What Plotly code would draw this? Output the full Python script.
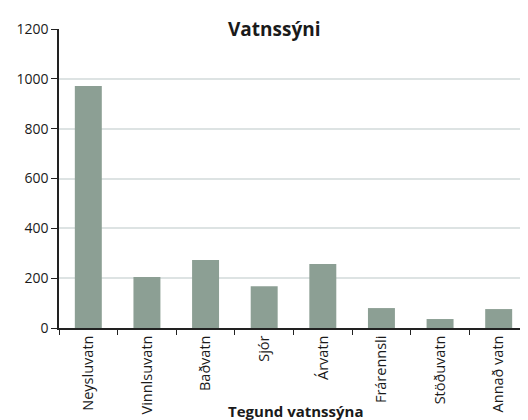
import plotly.graph_objects as go

categories = ["Neysluvatn", "Vinnlsuvatn", "Baðvatn", "Sjór", "Árvatn",
              "Frárennsli", "Stöðuvatn", "Annað vatn"]
counts = [971, 205, 273, 168, 257, 80, 36, 76]
y_ticks = [0, 200, 400, 600, 800, 1000, 1200]

font_name = "Open Sans"

fig = go.Figure(go.Bar(
    x=categories,
    y=counts,
    marker=dict(color="#8c9f94", line=dict(width=0)),
    width=0.46,
))

# page body adds an 8px offset, so the figure is 8px smaller than the window
fig.update_layout(
    width=520, height=412,
    margin=dict(l=51, r=0, t=21, b=92),
    plot_bgcolor="white", paper_bgcolor="white",
    showlegend=False,
    font=dict(family=font_name, size=12, color="#1a1a1a"),
    annotations=[
        dict(text="<b>Vatnssýni</b>", x=0.46, y=1.0, xref="paper", yref="paper",
             xanchor="center", yanchor="middle", showarrow=False,
             font=dict(size=19, family=font_name, color="#1a1a1a")),
        dict(text="<b>Tegund vatnssýna</b>", x=0.505, y=-0.278, xref="paper", yref="paper",
             xanchor="center", yanchor="middle", showarrow=False,
             font=dict(size=15, family=font_name, color="#1a1a1a")),
    ],
)

fig.update_xaxes(
    tickangle=-90, ticks="outside", ticklen=5, tickcolor="#222",
    tickson="boundaries", showline=True, linecolor="#222", linewidth=1.5,
    tickfont=dict(size=14.5), showgrid=False, automargin=False,
)
fig.update_yaxes(
    range=[0, 1200], tickvals=y_ticks, ticks="outside", ticklen=6,
    tickcolor="#222", showline=True, linecolor="#222", linewidth=1.5,
    showgrid=True, gridcolor="#dde3e3", gridwidth=1.5, zeroline=False,
    tickfont=dict(size=14), automargin=False,
)

fig.write_html("out.html")
